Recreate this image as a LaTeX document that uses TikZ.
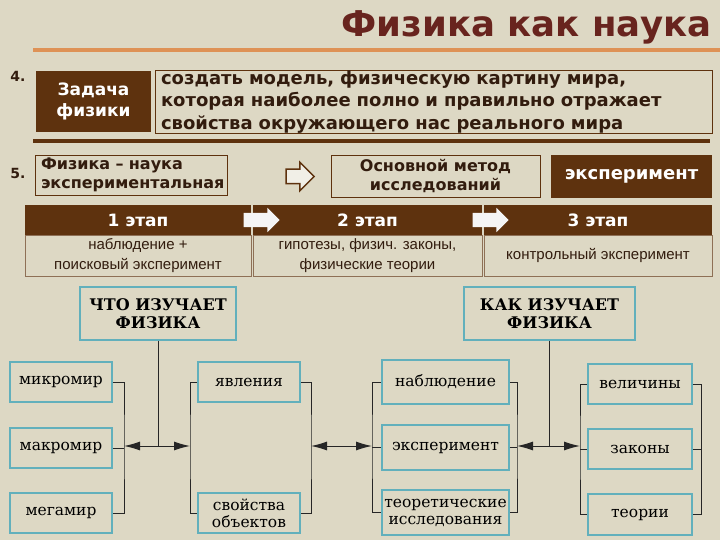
\documentclass[tikz,border=0pt]{standalone}
\usepackage{fontspec}
\setmainfont{DejaVu Sans}
\newfontfamily\schoolf{DejaVu Serif}
\newfontfamily\smallf{Liberation Sans}
\usetikzlibrary{arrows.meta,shapes.arrows}
\definecolor{bg}{RGB}{221,216,196}
\definecolor{brn}{RGB}{94,50,14}
\definecolor{ttl}{RGB}{104,36,30}
\definecolor{orng}{RGB}{222,146,86}
\definecolor{ink}{RGB}{50,28,14}
\definecolor{tealb}{RGB}{98,176,188}

\begin{document}
\begin{tikzpicture}[x=1pt,y=-1pt,
    brownbox/.style={fill=brn, text=white, font=\bfseries\fontsize{17}{21}\selectfont, align=center, inner sep=0pt},
    framebox/.style={draw=brn, line width=0.8pt, text=ink, font=\bfseries\fontsize{16}{19}\selectfont, inner sep=0pt},
    stagebox/.style={draw=brn!70, line width=0.6pt, text=ink, font=\smallf\fontsize{15}{20}\selectfont, align=center, inner sep=0pt},
    topic/.style={draw=tealb, line width=1.6pt, text=black, font=\schoolf\bfseries\fontsize{16}{18}\selectfont, align=center, inner sep=0pt},
    item/.style={draw=tealb, line width=1.6pt, text=black, font=\schoolf\fontsize{15.5}{17}\selectfont, align=center, inner sep=0pt},
    link/.style={line width=1pt, draw=black!85},
    twoway/.style={link, arrows={Latex[length=16pt,width=9pt]-Latex[length=16pt,width=9pt]}}]
\fill[bg] (0,0) rectangle (720,540);
\useasboundingbox (0,0) rectangle (720,540);

\node[anchor=base east, inner sep=0pt, text=ttl, font=\bfseries\fontsize{35.5}{36}\selectfont] (title) at (712,37) {Физика как наука};
\draw[orng, line width=3.5pt] (33,50) -- (720,50);

\node[text=ink, font=\bfseries\fontsize{14}{14}\selectfont] (n4) at (18,76) {4.};
\node[brownbox, minimum width=115pt, minimum height=61pt] (task) at (93.5,101.5) {Задача\\физики};
\node[framebox, minimum width=557pt, minimum height=62pt, text width=545pt, align=left, font=\bfseries\fontsize{18}{22.5}\selectfont] (goal) at (433.5,102) {создать модель, физическую картину мира,\\которая наиболее полно и правильно отражает\\свойства окружающего нас реального мира};
\draw[brn, line width=4pt] (33,141) -- (710,141);

\node[text=ink, font=\bfseries\fontsize{14}{14}\selectfont] (n5) at (18,173) {5.};
\node[framebox, minimum width=192pt, minimum height=40pt, text width=180pt, align=left] (exper) at (131,175) {Физика -- наука\\экспериментальная};
\node[single arrow, draw=brn, line width=1.5pt, fill=bg!40!white, inner xsep=0pt, inner ysep=6.5pt, single arrow head extend=7pt, minimum height=28pt] (hollow) at (296.5,176.5) {};
\node[framebox, minimum width=209pt, minimum height=42pt, align=center] (method) at (435.5,176) {Основной метод\\исследований};
\node[brownbox, minimum width=161pt, minimum height=43pt, font=\bfseries\fontsize{18}{20}\selectfont] (answer) at (631.5,176.5) {эксперимент};

\node[brownbox, minimum width=226pt, minimum height=30pt] (st1) at (138,220) {1 этап};
\node[brownbox, minimum width=229pt, minimum height=30pt] (st2) at (367.5,220) {2 этап};
\node[brownbox, minimum width=228pt, minimum height=30pt] (st3) at (598,220) {3 этап};
\node[stagebox, minimum width=226pt, minimum height=41pt] (de1) at (138,255.5) {наблюдение +\\поисковый эксперимент};
\node[stagebox, minimum width=229pt, minimum height=41pt] (de2) at (367.5,255.5) {гипотезы, физич. законы,\\физические теории};
\node[stagebox, minimum width=228pt, minimum height=41pt] (de3) at (598,255.5) {контрольный эксперимент};
\node[single arrow, fill=white!92!gray, inner xsep=0pt, inner ysep=7pt, single arrow head extend=5pt, minimum height=36pt] (go1) at (258,220) {};
\node[single arrow, fill=white!92!gray, inner xsep=0pt, inner ysep=7pt, single arrow head extend=5pt, minimum height=36pt] (go2) at (487,220) {};

\node[topic, minimum width=156pt, minimum height=53pt] (what) at (158,313.5) {ЧТО ИЗУЧАЕТ\\ФИЗИКА};
\node[item, minimum width=102pt, minimum height=40pt] (micro) at (61,382) {микромир};
\node[item, minimum width=102pt, minimum height=40pt] (macro) at (61,448) {макромир};
\node[item, minimum width=102pt, minimum height=40pt] (mega) at (61,513) {мегамир};
\node[item, minimum width=102pt, minimum height=40pt] (phen) at (249,382) {явления};
\node[item, minimum width=102pt, minimum height=40pt] (props) at (249,513) {свойства\\объектов};

\node[topic, minimum width=171pt, minimum height=53pt] (how) at (549.5,313.5) {КАК ИЗУЧАЕТ\\ФИЗИКА};
\node[item, minimum width=127pt, minimum height=44pt] (obs) at (445.5,382) {наблюдение};
\node[item, minimum width=127pt, minimum height=45pt] (expt) at (445.5,447.5) {эксперимент};
\node[item, minimum width=127pt, minimum height=45pt] (theo) at (445.5,512.5) {теоретические\\исследования};
\node[item, minimum width=104pt, minimum height=40pt] (quant) at (640,384) {величины};
\node[item, minimum width=104pt, minimum height=40pt] (laws) at (640,449) {законы};
\node[item, minimum width=104pt, minimum height=41pt] (theor) at (640,514.5) {теории};

\coordinate (ba) at (124,446);
\coordinate (bb) at (190,446);
\coordinate (bc) at (311,446);
\coordinate (bd) at (372,446);
\coordinate (be) at (517,446);
\coordinate (bf) at (580,446);

\draw[link] (micro.east) -| (ba) |- (mega.east);
\draw[link] (macro.east) -- (macro.east -| ba);
\draw[link] (phen.west) -| (bb) |- (props.west);
\draw[link] (phen.east) -| (bc) |- (props.east);
\draw[link] (obs.west) -| (bd) |- (theo.west);
\draw[link] (expt.west) -- (expt.west -| bd);
\draw[link] (obs.east) -| (be) |- (theo.east);
\draw[link] (expt.east) -- (expt.east -| be);
\draw[link] (quant.west) -| (bf) |- (theor.west);
\draw[link] (laws.west) -- (laws.west -| bf);
\draw[link] (quant.east) -- ++(9,0) |- (theor.east);
\draw[link] (laws.east) -- ++(9,0);

\draw[link] (what.south) -- (what.south |- ba);
\draw[twoway] (ba) -- (bb);
\draw[twoway] (bc) -- (bd);
\draw[link] (how.south) -- (how.south |- be);
\draw[twoway] (be) -- (bf);
\end{tikzpicture}
\end{document}
